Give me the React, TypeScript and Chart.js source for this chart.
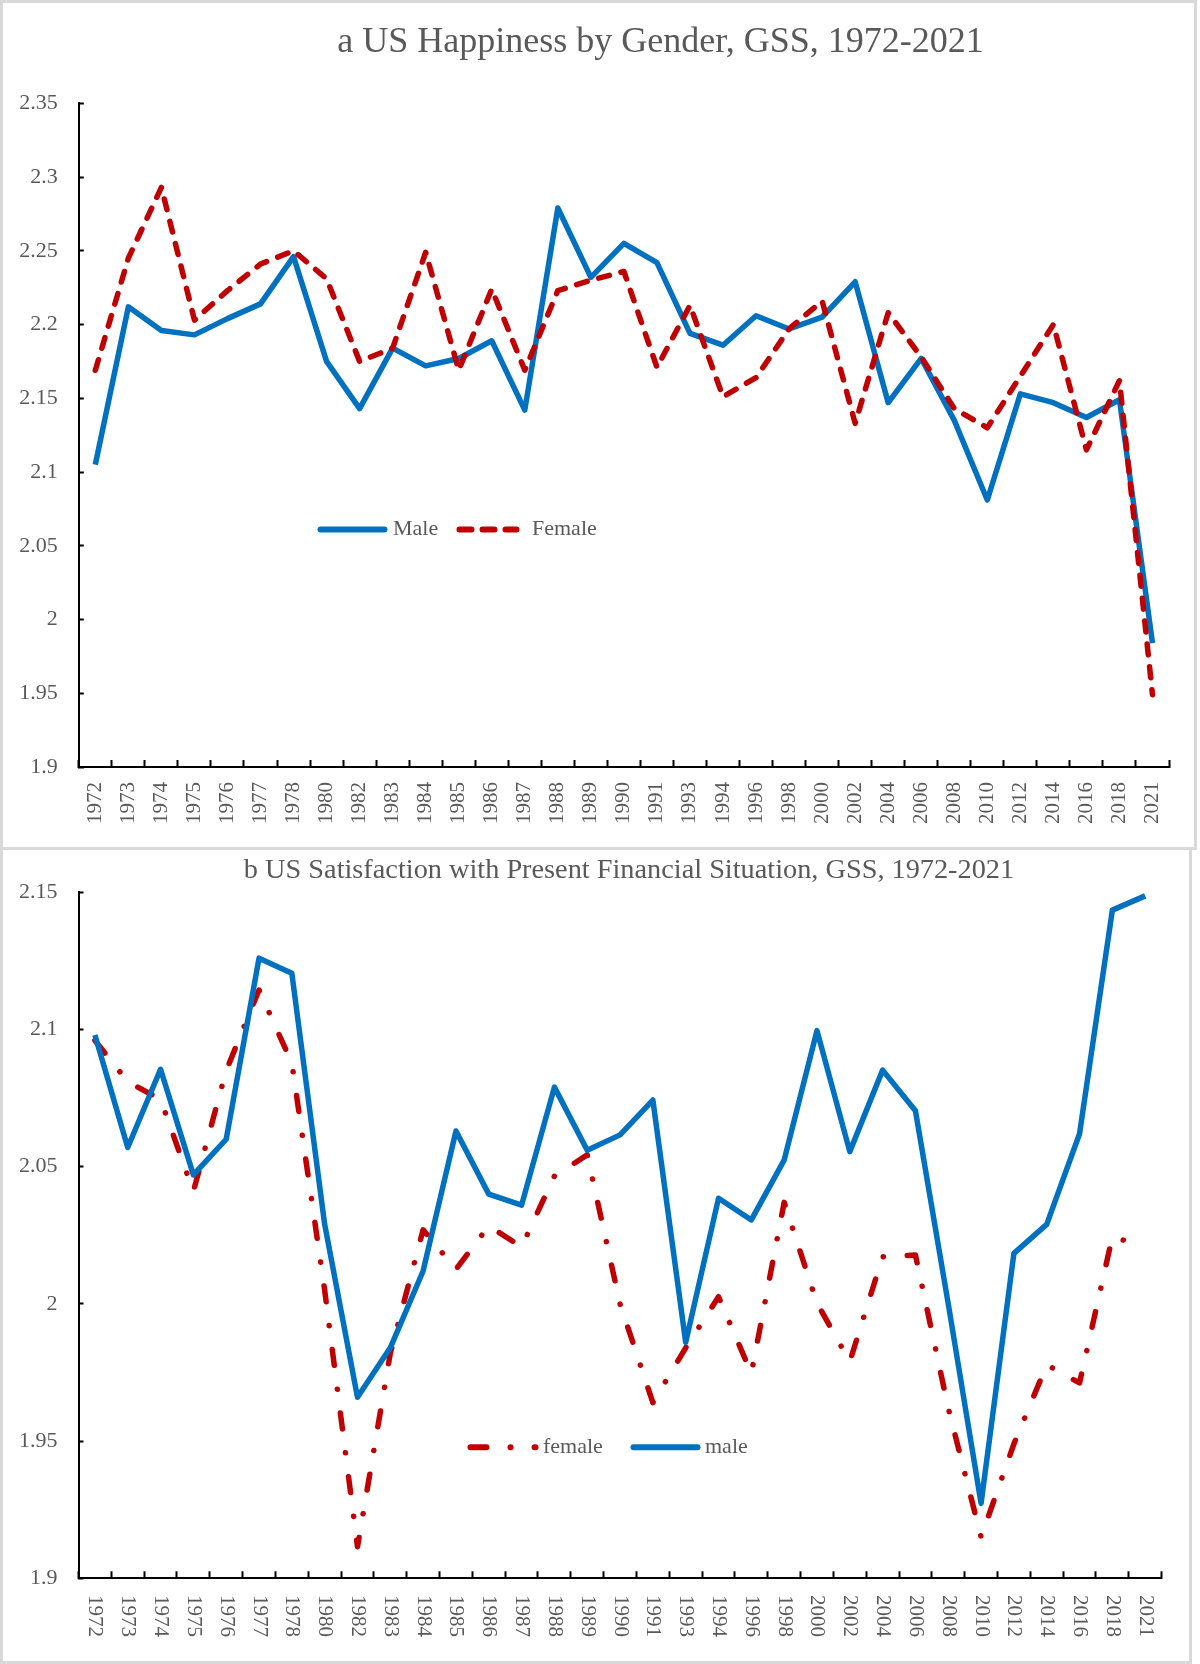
import { useEffect, useRef } from "react"
import { Chart, registerables } from "chart.js"

Chart.register(...registerables)

// survey years (uneven spacing, one category each)
const years = [
  "1972", "1973", "1974", "1975", "1976", "1977", "1978", "1980", "1982", "1983", "1984",
  "1985", "1986", "1987", "1988", "1989", "1990", "1991", "1993", "1994", "1996", "1998",
  "2000", "2002", "2004", "2006", "2008", "2010", "2012", "2014", "2016", "2018", "2021",
]

// panel a: happiness
const happyMale = [
  2.105, 2.212, 2.196, 2.193, 2.204, 2.214, 2.246, 2.175, 2.143, 2.184, 2.172,
  2.177, 2.189, 2.142, 2.279, 2.232, 2.255, 2.242, 2.194, 2.186, 2.206, 2.197,
  2.205, 2.229, 2.147, 2.177, 2.135, 2.081, 2.153, 2.147, 2.137, 2.149, 1.984,
]
const happyFemale = [
  2.169, 2.245, 2.293, 2.203, 2.223, 2.241, 2.25, 2.231, 2.175, 2.184, 2.249,
  2.169, 2.224, 2.169, 2.223, 2.23, 2.236, 2.171, 2.213, 2.151, 2.164, 2.197,
  2.216, 2.133, 2.208, 2.178, 2.143, 2.13, 2.165, 2.2, 2.115, 2.162, 1.949,
]
const happyTicks = [1.9, 1.95, 2, 2.05, 2.1, 2.15, 2.2, 2.25, 2.3, 2.35]

// panel b: financial satisfaction
const finMale = [
  2.098, 2.057, 2.0855, 2.047, 2.06, 2.126, 2.1205, 2.029, 1.966, 1.984, 2.012,
  2.063, 2.04, 2.036, 2.079, 2.056, 2.0616, 2.0743, 1.986, 2.0385, 2.0306, 2.0524,
  2.0996, 2.0555, 2.0852, 2.0704, 2.0, 1.9273, 2.0184, 2.029, 2.062, 2.1435, 2.1487,
]
const finFemale = [
  2.096, 2.081, 2.0745, 2.041, 2.085, 2.1144, 2.0878, 2.005, 1.9115, 1.982, 2.027,
  2.0126, 2.0284, 2.0208, 2.0466, 2.0543, 2.0, 1.964, 1.984, 2.0026, 1.9747, 2.037,
  2.0003, 1.979, 2.0172, 2.0178, 1.962, 1.915, 1.949, 1.9778, 1.9712, 2.0245, 2.0208,
]
const finTicks = [1.9, 1.95, 2, 2.05, 2.1, 2.15]

const SERIF = "'Liberation Serif', 'Times New Roman', serif"
const TEXT = "#595959"
const BLUE = "#0070C0"
const RED = "#C00000"
const LINE_W = 5.5

type LegendItem = { label: string; color: string; dash: number[]; dx: number; len: number; textDx: number }

type PanelSpec = {
  title: string
  titleX: number
  titleY: number
  titleSize: number
  labelDir: "up" | "down"
  labelGap: number
  legend: LegendItem[]
  legendValue: number
  min: number
  max: number
  ticks: number[]
  datasets: any[]
  padding: { top: number; right: number; bottom: number; left: number }
}

// title, rotated year labels and the in-plot legend
function decorPlugin(p: PanelSpec) {
  return {
    id: "decor",
    afterDraw(chart: Chart) {
      const { ctx, chartArea } = chart
      const xs: any = chart.scales.x
      const ys: any = chart.scales.y
      ctx.save()
      ctx.fillStyle = TEXT

      ctx.font = `${p.titleSize}px ${SERIF}`
      ctx.textAlign = "center"
      ctx.textBaseline = "middle"
      ctx.fillText(p.title, p.titleX, p.titleY)

      ctx.font = `21px ${SERIF}`
      xs.ticks.forEach((t: any, i: number) => {
        const px = xs.getPixelForTick(i)
        ctx.save()
        ctx.translate(px, xs.top + p.labelGap)
        if (p.labelDir === "up") {
          ctx.rotate(-Math.PI / 2)
          ctx.textAlign = "right"
        } else {
          ctx.rotate(Math.PI / 2)
          ctx.textAlign = "left"
        }
        ctx.textBaseline = "middle"
        ctx.fillText(String(xs.getLabelForValue(t.value)), 0, 0)
        ctx.restore()
      })

      const ly = ys.getPixelForValue(p.legendValue)
      ctx.font = `22px ${SERIF}`
      ctx.textAlign = "left"
      ctx.textBaseline = "middle"
      p.legend.forEach((item) => {
        const x0 = chartArea.left + item.dx
        ctx.beginPath()
        ctx.setLineDash(item.dash)
        ctx.lineCap = "round"
        ctx.lineWidth = 6
        ctx.strokeStyle = item.color
        ctx.moveTo(x0, ly)
        ctx.lineTo(x0 + item.len, ly)
        ctx.stroke()
        ctx.setLineDash([])
        ctx.fillText(item.label, chartArea.left + item.textDx, ly)
      })
      ctx.restore()
    },
  }
}

function LinePanel({ spec, box }: { spec: PanelSpec; box: { left: number; top: number; width: number; height: number; borderTop?: boolean } }) {
  const chartRef = useRef<HTMLCanvasElement>(null)

  useEffect(() => {
    if (!chartRef.current) return
    const chart = new Chart(chartRef.current, {
      type: "line",
      data: { labels: years, datasets: spec.datasets },
      options: {
        responsive: true,
        maintainAspectRatio: false,
        animation: false,
        events: [],
        layout: { padding: spec.padding },
        plugins: {
          legend: { display: false },
          tooltip: { enabled: false },
        },
        scales: {
          x: {
            type: "category",
            offset: true,
            afterFit: (s: any) => {
              s.height = 60
            },
            ticks: { display: false, autoSkip: false },
            grid: {
              offset: true,
              drawOnChartArea: false,
              drawTicks: true,
              tickLength: -7,
              tickWidth: 2,
              tickColor: "#000",
            },
            border: { display: true, color: "#000", width: 2 },
          },
          y: {
            min: spec.min,
            max: spec.max,
            afterBuildTicks: (s: any) => {
              s.ticks = spec.ticks.map((v) => ({ value: v }))
            },
            afterFit: (s: any) => {
              s.width = 62
            },
            ticks: {
              callback: (v: any) => String(v),
              color: TEXT,
              font: { family: SERIF, size: 22 },
              padding: 26,
            },
            grid: {
              drawOnChartArea: false,
              drawTicks: true,
              tickLength: -5,
              tickWidth: 2,
              tickColor: "#000",
            },
            border: { display: true, color: "#000", width: 2 },
          },
        },
      },
      plugins: [decorPlugin(spec)],
    } as any)

    return () => {
      chart.destroy()
    }
  }, [])

  const inner = { w: box.width - 6, h: box.height - (box.borderTop === false ? 3 : 6) }
  return (
    <div
      style={{
        position: "absolute",
        left: box.left,
        top: box.top,
        width: box.width,
        height: box.height,
        boxSizing: "border-box",
        border: "3px solid #d9d9d9",
        borderTop: box.borderTop === false ? "none" : "3px solid #d9d9d9",
        background: "#fff",
      }}
    >
      <div style={{ position: "relative", width: inner.w, height: inner.h }}>
        <canvas ref={chartRef} />
      </div>
    </div>
  )
}

const happySpec: PanelSpec = {
  title: "a US Happiness by Gender, GSS, 1972-2021",
  titleX: 657.5,
  titleY: 40,
  titleSize: 36,
  labelDir: "up",
  labelGap: 15,
  legendValue: 2.061,
  legend: [
    { label: "Male", color: BLUE, dash: [], dx: 241.7, len: 64, textDx: 314.2 },
    { label: "Female", color: RED, dash: [12, 11], dx: 380.7, len: 57, textDx: 453.2 },
  ],
  min: 1.9,
  max: 2.35,
  ticks: happyTicks,
  datasets: [
    {
      label: "Male",
      data: happyMale,
      borderColor: BLUE,
      borderWidth: LINE_W,
      pointRadius: 0,
      tension: 0,
      borderJoinStyle: "round",
      order: 1,
    },
    {
      label: "Female",
      data: happyFemale,
      borderColor: RED,
      borderWidth: LINE_W,
      borderDash: [11, 12],
      borderCapStyle: "round",
      pointRadius: 0,
      tension: 0,
      borderJoinStyle: "round",
      order: 0,
    },
  ],
  padding: { top: 100.3, right: 25, bottom: 20, left: 13.8 },
}

const finSpec: PanelSpec = {
  title: "b US Satisfaction with Present Financial Situation, GSS, 1972-2021",
  titleX: 626,
  titleY: 21,
  titleSize: 28.3,
  labelDir: "down",
  labelGap: 16.7,
  legendValue: 1.9478,
  legend: [
    { label: "female", color: RED, dash: [16, 24, 0.1, 24], dx: 392, len: 65, textDx: 464.5 },
    { label: "male", color: BLUE, dash: [], dx: 555, len: 64, textDx: 626.5 },
  ],
  min: 1.9,
  max: 2.15,
  ticks: finTicks,
  datasets: [
    {
      label: "female",
      data: finFemale,
      borderColor: RED,
      borderWidth: LINE_W,
      borderDash: [16, 24, 0.1, 24],
      borderCapStyle: "round",
      pointRadius: 0,
      tension: 0,
      borderJoinStyle: "round",
      order: 1,
    },
    {
      label: "male",
      data: finMale,
      borderColor: BLUE,
      borderWidth: LINE_W,
      pointRadius: 0,
      tension: 0,
      borderJoinStyle: "round",
      order: 0,
    },
  ],
  padding: { top: 42.3, right: 27.4, bottom: 22.7, left: 13.5 },
}

export default function App() {
  useEffect(() => {
    document.body.style.margin = "0"
  }, [])

  return (
    <div style={{ position: "relative", width: 1200, height: 1664, background: "#fff", overflow: "hidden" }}>
      <LinePanel spec={happySpec} box={{ left: 0, top: 0, width: 1197, height: 850 }} />
      <LinePanel spec={finSpec} box={{ left: 0, top: 850, width: 1192, height: 814, borderTop: false }} />
    </div>
  )
}
